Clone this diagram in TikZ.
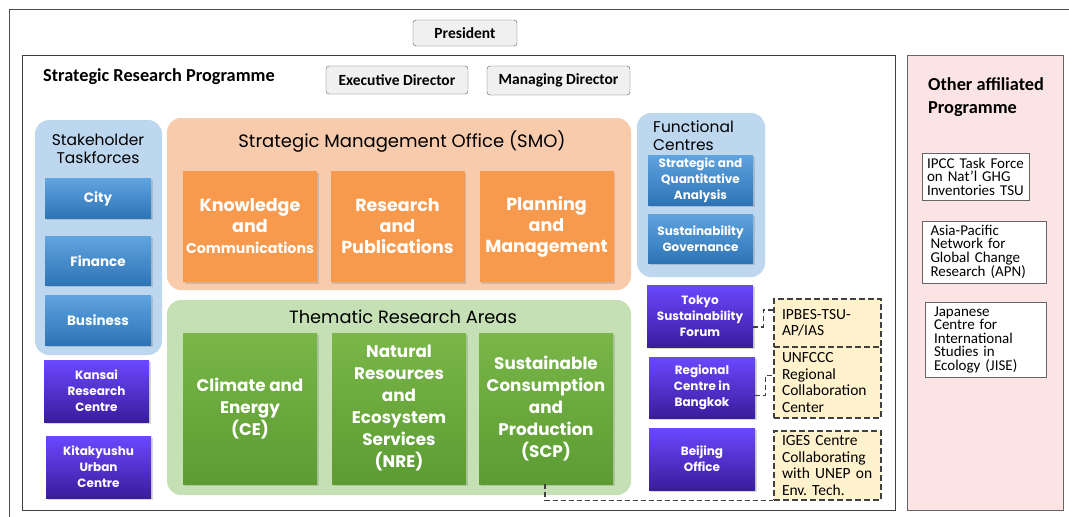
\documentclass[tikz,border=0pt]{standalone}
\usepackage{fontspec}
\setmainfont{Carlito}
\newfontfamily\gothic{Poppins}
\usetikzlibrary{shadows}

\definecolor{panelblue}{HTML}{BDD7EE}
\definecolor{panelorange}{HTML}{F8CBAD}
\definecolor{panelgreen}{HTML}{C5E0B4}
\definecolor{orangebox}{HTML}{F79A4E}
\definecolor{greentop}{HTML}{7AB648}
\definecolor{greenbot}{HTML}{5C9C33}
\definecolor{bluetop}{HTML}{5FA3DF}
\definecolor{bluebot}{HTML}{2E74B5}
\definecolor{purpletop}{HTML}{6A48FF}
\definecolor{purplebot}{HTML}{3A1C9C}
\definecolor{pinkfill}{HTML}{FCE4E4}
\definecolor{notefill}{HTML}{FFF2CC}

\begin{document}
\frenchspacing
\begin{tikzpicture}[x=1pt,y=-1pt]
\tikzset{headbox/.style={draw=black!65, fill=black!6, rounded corners=3pt, inner sep=0pt, font=\bfseries\fontsize{15.5}{17}\selectfont},
  panel/.style={rounded corners=14pt, inner sep=0pt},
  paneltitle/.style={font=\gothic\fontsize{15.5}{18}\selectfont, text=black},
  shade/.style={drop shadow={opacity=0.3, shadow xshift=1.5pt, shadow yshift=-1.5pt}},
  bluebox/.style={shade, top color=bluetop, bottom color=bluebot, text=white, align=center, inner sep=0pt, font=\gothic\bfseries\fontsize{13.5}{16}\selectfont},
  purplebox/.style={shade, top color=purpletop, bottom color=purplebot, text=white, align=center, inner sep=0pt, font=\gothic\bfseries\fontsize{12}{16}\selectfont},
  orangebox/.style={shade, fill=orangebox, text=white, align=center, inner sep=0pt, font=\gothic\bfseries\fontsize{17.5}{21}\selectfont},
  greenbox/.style={shade, top color=greentop, bottom color=greenbot, text=white, align=center, inner sep=0pt, font=\gothic\bfseries\fontsize{16.8}{22}\selectfont},
  notebox/.style={draw=black!75, dash pattern=on 6pt off 3pt, line width=1.4pt, fill=notefill, align=left, inner ysep=0pt, inner xsep=8pt, text width=91, font=\fontsize{15.5}{16.5}\selectfont},
  affbox/.style={draw=black!60, fill=white, align=left, inner sep=0pt, font=\fontsize{15}{13.5}\selectfont},
  link/.style={draw=black!75, dash pattern=on 5pt off 3pt, line width=1.1pt}}
\clip (0,0) rectangle (1069,517);
\draw[black!70] (9,9) rectangle (1080,530);
\node[headbox, minimum width=104, minimum height=26] (pres) at (465,33) {President};

% strategic research programme
\draw[black!75, fill=white] (22,55) rectangle (895,510);
\node[anchor=west, inner sep=0pt, font=\bfseries\fontsize{18.3}{20}\selectfont] (srp) at (43,77) {Strategic Research Programme};
\node[headbox, minimum width=142, minimum height=28] (exec) at (397,80) {Executive Director};
\node[headbox, minimum width=143, minimum height=29] (mgr) at (558.5,80.5) {Managing Director};

% stakeholder taskforces
\node[panel, fill=panelblue, minimum width=127, minimum height=235] (stake) at (98.5,237.5) {};
\node[paneltitle, align=center] (staket) at (98,149) {Stakeholder\\Taskforces};
\node[bluebox, minimum width=106, minimum height=40] (city) at (98,198.5) {City};
\node[bluebox, minimum width=106, minimum height=49] (fin) at (98,261) {Finance};
\node[bluebox, minimum width=106, minimum height=50] (bus) at (98,320) {Business};
\node[purplebox, minimum width=105, minimum height=62] (kansai) at (96.5,391) {Kansai\\Research\\Centre};
\node[purplebox, minimum width=105, minimum height=62] (kita) at (98.5,467) {Kitakyushu\\Urban\\Centre};

% strategic management office
\node[panel, fill=panelorange, minimum width=464, minimum height=172] (smo) at (399,204) {};
\node[paneltitle, font=\gothic\fontsize{18}{20}\selectfont] (smot) at (402,142) {Strategic Management Office (SMO)};
\node[orangebox, minimum width=134, minimum height=111] (know) at (250,226.5) {Knowledge\\and\\{\fontsize{14.2}{21}\selectfont Communications}};
\node[orangebox, minimum width=134, minimum height=111] (res) at (397.5,226.5) {Research\\and\\Publications};
\node[orangebox, minimum width=134, minimum height=111] (plan) at (546.5,226.5) {Planning\\and\\Management};

% thematic research areas
\node[panel, fill=panelgreen, minimum width=464, minimum height=195] (them) at (399,397.5) {};
\node[paneltitle, font=\gothic\fontsize{17.8}{20}\selectfont] (themt) at (403,317) {Thematic Research Areas};
\node[greenbox, minimum width=134, minimum height=151] (ce) at (250,408.5) {Climate and\\Energy\\(CE)};
\node[greenbox, minimum width=134, minimum height=151] (nre) at (399,408.5) {Natural\\Resources\\and\\Ecosystem\\Services\\(NRE)};
\node[greenbox, minimum width=134, minimum height=151] (scp) at (546,408.5) {Sustainable\\Consumption\\and\\Production\\(SCP)};

% functional centres and offices
\node[panel, fill=panelblue, minimum width=128, minimum height=164] (func) at (701,195) {};
\node[paneltitle, anchor=west, align=left, inner sep=0pt] (funct) at (653,136) {Functional\\Centres};
\node[bluebox, font=\gothic\bfseries\fontsize{12}{16}\selectfont, minimum width=105, minimum height=50] (sqa) at (700.5,180) {Strategic and\\Quantitative\\Analysis};
\node[bluebox, font=\gothic\bfseries\fontsize{12}{16}\selectfont, minimum width=105, minimum height=49] (sg) at (700.5,238.5) {Sustainability\\Governance};
\node[purplebox, minimum width=106, minimum height=62] (tokyo) at (700,316) {Tokyo\\Sustainability\\Forum};
\node[purplebox, minimum width=106, minimum height=61] (bkk) at (702,387.5) {Regional\\Centre in\\Bangkok};
\node[purplebox, minimum width=106, minimum height=62] (beij) at (702,459) {Beijing\\Office};

% collaborating units
\node[notebox, minimum height=48] (ipbes) at (827.5,323) {IPBES-TSU-\\AP/IAS};
\node[notebox, minimum height=71] (unfccc) at (827.5,382.5) {UNFCCC\\Regional\\Collaboration\\Center};
\node[notebox, minimum height=69] (iges) at (827.5,465.5) {IGES Centre\\Collaborating\\with UNEP on\\Env. Tech.};
\draw[link] ([yshift=-11pt]tokyo.east) -- ++(10,0) |- ([yshift=13pt]ipbes.west);
\draw[link] ([yshift=-8pt]bkk.east) -- ++(10,0) |- ([yshift=7pt]unfccc.west);
\draw[link] ([xshift=-1pt]scp.south) |- (iges.south west);

% other affiliated programme
\draw[black!60, fill=pinkfill] (907,55) rectangle (1063,510);
\node[anchor=north west, align=left, inner sep=0pt, font=\bfseries\fontsize{18.3}{23}\selectfont] (oth) at (928,77) {Other affiliated\\Programme};
\node[affbox, minimum width=107, minimum height=47, text width=97] (ipcc) at (975.5,176.5) {IPCC Task Force\\on Nat'l GHG\\Inventories TSU};
\node[affbox, minimum width=124, minimum height=62, text width=107] (apn) at (984,252) {Asia-Pacific\\Network for\\Global Change\\Research (APN)};
\node[affbox, minimum width=121, minimum height=75, text width=103] (jise) at (985.5,339.5) {Japanese\\Centre for\\International\\Studies in\\Ecology (JISE)};
\end{tikzpicture}
\end{document}
